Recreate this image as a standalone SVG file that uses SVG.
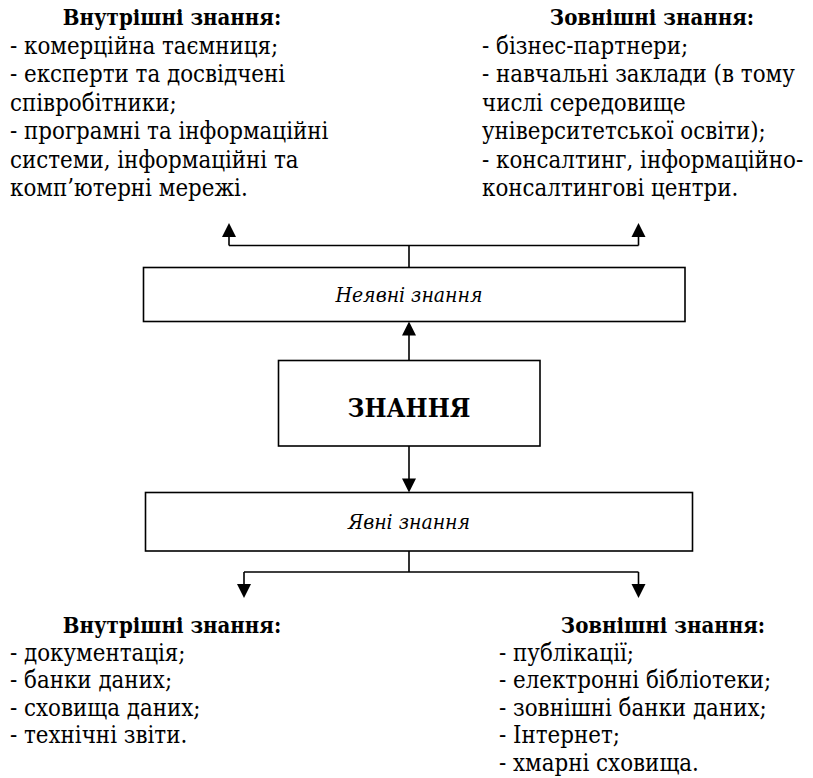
<svg xmlns="http://www.w3.org/2000/svg" width="813" height="778" viewBox="0 0 813 778">
<style>
text{font-family:'DejaVu Serif Condensed','DejaVu Serif',serif;font-size:23.8px;fill:#000}
.b{font-weight:bold;font-size:22px}
.i{font-style:italic;font-size:21px}
.k{font-weight:bold;font-size:26px}
.box{fill:#fff;stroke:#000;stroke-width:1.6}
.ln{fill:none;stroke:#000;stroke-width:1.6}
.ah{fill:#000}
</style>
<rect width="813" height="778" fill="#fff"/>
<g id="connectors">
<path class="ln" d="M409,267.5 V245.5 M229,245.5 H638.5 M229,245.5 V236 M638.5,245.5 V236"/>
<polygon class="ah" points="229,223 222,237 236,237"/>
<polygon class="ah" points="638.5,223 631.5,237 645.5,237"/>
<path class="ln" d="M409,360.5 V334"/>
<polygon class="ah" points="409,321.5 402,335.5 416,335.5"/>
<path class="ln" d="M409,446 V479"/>
<polygon class="ah" points="409,492.5 402,478.5 416,478.5"/>
<path class="ln" d="M409,551 V572 M244,572 H638.5 M244,572 V585 M638.5,572 V585"/>
<polygon class="ah" points="244,598 237,584 251,584"/>
<polygon class="ah" points="638.5,598 631.5,584 645.5,584"/>
</g>
<g id="tacit">
<rect class="box" x="143.5" y="267.5" width="541.5" height="54"/>
<text class="i" x="409" y="301.5" text-anchor="middle">Неявні знання</text>
</g>
<g id="knowledge">
<rect class="box" x="278.5" y="360.5" width="261.5" height="85.5"/>
<text class="k" x="409" y="417" text-anchor="middle">ЗНАННЯ</text>
</g>
<g id="explicit">
<rect class="box" x="145.5" y="492.5" width="547" height="58.5"/>
<text class="i" x="409" y="528.5" text-anchor="middle">Явні знання</text>
</g>
<g id="tacit-internal">
<text class="b" x="172" y="25" text-anchor="middle">Внутрішні знання:</text>
<text x="10" y="53.5">- комерційна таємниця;</text>
<text x="10" y="82">- експерти та досвідчені</text>
<text x="10" y="110.5">співробітники;</text>
<text x="10" y="139">- програмні та інформаційні</text>
<text x="10" y="167.5">системи, інформаційні та</text>
<text x="10" y="196">комп’ютерні мережі.</text>
</g>
<g id="tacit-external">
<text class="b" x="652" y="25" text-anchor="middle">Зовнішні знання:</text>
<text x="482" y="53.5">- бізнес-партнери;</text>
<text x="482" y="82">- навчальні заклади (в тому</text>
<text x="482" y="110.5">числі середовище</text>
<text x="482" y="139">університетської освіти);</text>
<text x="482" y="167.5">- консалтинг, інформаційно-</text>
<text x="482" y="196">консалтингові центри.</text>
</g>
<g id="explicit-internal">
<text class="b" x="172" y="633" text-anchor="middle">Внутрішні знання:</text>
<text x="10" y="660.5">- документація;</text>
<text x="10" y="688">- банки даних;</text>
<text x="10" y="715.5">- сховища даних;</text>
<text x="10" y="743">- технічні звіти.</text>
</g>
<g id="explicit-external">
<text class="b" x="663" y="633" text-anchor="middle">Зовнішні знання:</text>
<text x="499" y="660.5">- публікації;</text>
<text x="499" y="688">- електронні бібліотеки;</text>
<text x="499" y="715.5">- зовнішні банки даних;</text>
<text x="499" y="743">- Інтернет;</text>
<text x="499" y="770.5">- хмарні сховища.</text>
</g>
</svg>
